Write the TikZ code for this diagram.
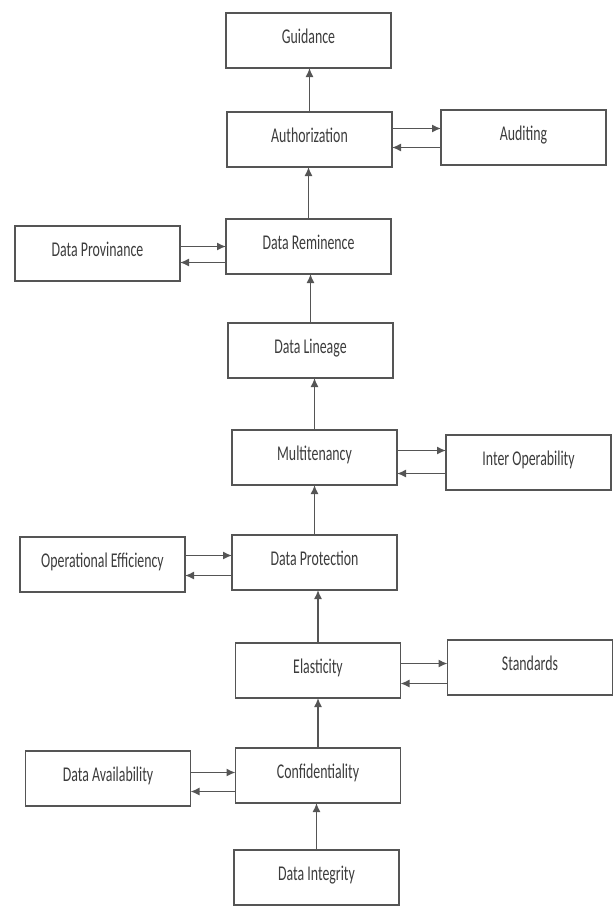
\documentclass[tikz,border=0pt]{standalone}
\usepackage{fontspec}
\setmainfont{Carlito}[FakeStretch=0.66]
\usepackage{tikz}
\usetikzlibrary{positioning, arrows.meta}
\definecolor{boxgray}{HTML}{555555}
\definecolor{textgray}{HTML}{3C3C3C}

\begin{document}
\begin{tikzpicture}[
    x=1pt, y=1pt,
    node distance=50pt and 47pt,
    every node/.style={draw=boxgray, line width=1.6pt, outer sep=0pt, rectangle, minimum width=165pt, minimum height=55pt, text height=14pt, text depth=8pt, align=center, text=textgray, font=\fontsize{21}{25}\selectfont},
    arrow/.style={-{Latex[length=9pt, width=8pt]}, line width=1.5pt, draw=boxgray}
]
\useasboundingbox (0,0) rectangle (614,-907);

% main column
\node (integrity) at (316.5,-877.5) {Data Integrity};
\node[above=47pt of integrity, xshift=1.5pt] (conf) {Confidentiality};
\node[above=50pt of conf] (elast) {Elasticity};
\node[above=53pt of elast, xshift=-3.5pt] (protect) {Data Protection};
\node[above=50pt of protect] (multi) {Multitenancy};
\node[above=52pt of multi, xshift=-4pt] (lineage) {Data Lineage};
\node[above=49pt of lineage, xshift=-2pt] (remin) {Data Reminence};
\node[above=52pt of remin, xshift=1pt] (auth) {Authorization};
\node[above=44pt of auth, xshift=-1pt] (guide) {Guidance};

% side boxes
\node[right=49pt of auth, yshift=2pt] (audit) {Auditing};
\node[left=46pt of remin, yshift=-7pt] (prov) {Data Provinance};
\node[right=49pt of multi, yshift=-5pt] (interop) {Inter Operability};
\node[left=47pt of protect, yshift=-2pt] (opeff) {Operational Efficiency};
\node[right=47pt of elast, yshift=3pt] (standards) {Standards};
\node[left=45pt of conf, yshift=-3pt] (avail) {Data Availability};

% upward arrows
\draw[arrow] (integrity.north) -- (integrity.north |- conf.south);
\draw[arrow] (conf.north) -- (conf.north |- elast.south);
\draw[arrow] (elast.north) -- (elast.north |- protect.south);
\draw[arrow] (protect.north) -- (protect.north |- multi.south);
\draw[arrow] (multi.north) -- (multi.north |- lineage.south);
\draw[arrow] (lineage.north) -- (lineage.north |- remin.south);
\draw[arrow] (remin.north) -- (remin.north |- auth.south);
\draw[arrow] (auth.north) -- (auth.north |- guide.south);

% two way links
\draw[arrow] ([yshift=11pt]auth.east) -- ([yshift=11pt]auth.east -| audit.west);
\draw[arrow] ([yshift=-8pt]auth.east -| audit.west) -- ([yshift=-8pt]auth.east);
\draw[arrow] ([yshift=0pt]remin.west -| prov.east) -- ([yshift=0pt]remin.west);
\draw[arrow] ([yshift=-16pt]remin.west) -- ([yshift=-16pt]remin.west -| prov.east);
\draw[arrow] ([yshift=7pt]multi.east) -- ([yshift=7pt]multi.east -| interop.west);
\draw[arrow] ([yshift=-16pt]multi.east -| interop.west) -- ([yshift=-16pt]multi.east);
\draw[arrow] ([yshift=7pt]protect.west -| opeff.east) -- ([yshift=7pt]protect.west);
\draw[arrow] ([yshift=-13pt]protect.west) -- ([yshift=-13pt]protect.west -| opeff.east);
\draw[arrow] ([yshift=7pt]elast.east) -- ([yshift=7pt]elast.east -| standards.west);
\draw[arrow] ([yshift=-13pt]elast.east -| standards.west) -- ([yshift=-13pt]elast.east);
\draw[arrow] ([yshift=3pt]conf.west -| avail.east) -- ([yshift=3pt]conf.west);
\draw[arrow] ([yshift=-16pt]conf.west) -- ([yshift=-16pt]conf.west -| avail.east);
\end{tikzpicture}
\end{document}
